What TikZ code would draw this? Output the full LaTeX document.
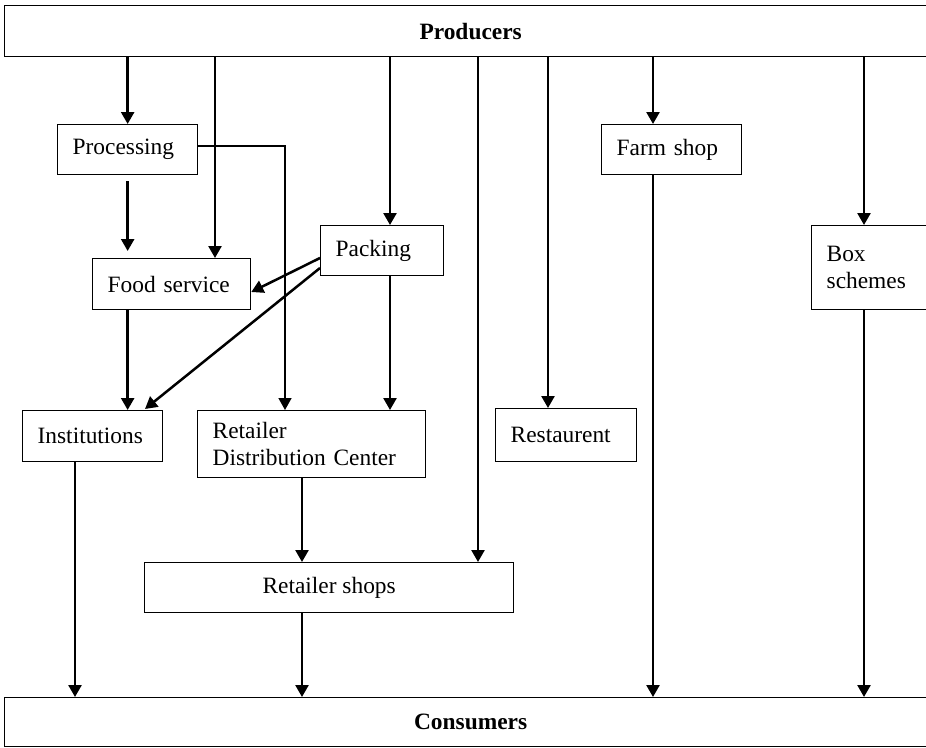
\documentclass[tikz,border=0pt]{standalone}
\usepackage{fontspec}
\setmainfont{Liberation Serif}
\usetikzlibrary{arrows.meta}
\begin{document}
\begin{tikzpicture}[x=1pt,y=-1pt,
  every node/.style={font=\fontsize{23.4}{27}\selectfont},
  bx/.style={draw, line width=1.3pt, anchor=north west, align=left, inner xsep=15pt, inner ysep=0pt},
  cbx/.style={draw, line width=1.3pt, anchor=north west, align=center, inner sep=0pt},
  arr/.style={line width=2.5pt, -{Triangle[width=13pt,length=12pt]}},
  tarr/.style={line width=1.5pt, -{Triangle[width=13pt,length=12pt]}}]
\useasboundingbox (0,0) rectangle (926,747);
% boxes
\node[cbx, minimum width=932pt, minimum height=51pt] (prod) at (4,5) {\bfseries Producers};
\node[bx, text width=110pt, minimum height=50pt] (proc) at (57,124) {Processing};
\node[bx, text width=128pt, minimum height=51pt] (fs) at (92,258) {Food service};
\node[bx, text width=93pt, minimum height=50pt] (pack) at (320,225) {Packing};
\node[bx, text width=110pt, minimum height=50pt] (farm) at (601,124) {Farm shop};
\node[bx, text width=94pt, minimum height=84pt] (boxs) at (811,225) {Box\\schemes};
\node[bx, text width=110pt, minimum height=51pt] (inst) at (22,410) {Institutions};
\node[bx, text width=198pt, minimum height=67pt] (rdc) at (197,410) {Retailer\\Distribution Center};
\node[bx, text width=111pt, minimum height=53pt] (rest) at (495,408) {Restaurent};
\node[cbx, minimum width=369pt, minimum height=50pt] (shops) at (144,562) {Retailer shops};
\node[cbx, minimum width=932pt, minimum height=49pt] (cons) at (4,697) {\bfseries Consumers};
% helper coordinates
\coordinate (fsin) at ([xshift=123pt]fs.north west);
\coordinate (packin) at ([xshift=70pt]pack.north west);
\coordinate (shopsin) at ([xshift=334pt]shops.north west);
\coordinate (restin) at ([xshift=53pt]rest.north west);
\coordinate (farmin) at ([xshift=52pt]farm.north west);
\coordinate (boxin) at ([xshift=53pt]boxs.north west);
\coordinate (pf) at (proc.south |- fs.north);
\coordinate (rdcin) at ([xshift=88pt]rdc.north west);
\coordinate (rdcin2) at ([xshift=193pt]rdc.north west);
\coordinate (instin) at ([xshift=123pt]inst.north west);
\coordinate (instout) at ([xshift=53pt]inst.south west);
\coordinate (rdcout) at ([xshift=105pt]rdc.south west);
% from producers
\draw[arr] (prod.south -| proc.north) -- (proc.north);
\draw[arr] (prod.south -| fsin) -- (fsin);
\draw[arr] (prod.south -| packin) -- (packin);
\draw[arr] (prod.south -| shopsin) -- (shopsin);
\draw[arr] (prod.south -| restin) -- (restin);
\draw[arr] (prod.south -| farmin) -- (farmin);
\draw[arr] (prod.south -| boxin) -- (boxin);
% middle
\draw[arr] ([yshift=-6pt]proc.south) -- ([yshift=7pt]pf);
\draw[tarr] ([yshift=-22pt]proc.north east) -| (rdcin);
\draw[arr] ([yshift=-33pt]pack.north west) -- ([yshift=-34pt]fs.north east);
\draw[arr] ([yshift=-43pt]pack.north west) -- ([yshift=1pt]instin);
\draw[arr] (pack.south -| packin) -- (rdcin2);
\draw[arr] (fs.south -| pf) -- (inst.north -| pf);
% to consumers
\draw[arr] (instout) -- (cons.north -| instout);
\draw[arr] (rdcout) -- (shops.north -| rdcout);
\draw[arr] (shops.south -| rdcout) -- (cons.north -| rdcout);
\draw[arr] (farm.south -| farmin) -- (cons.north -| farmin);
\draw[arr] (boxs.south -| boxin) -- (cons.north -| boxin);
\end{tikzpicture}
\end{document}
